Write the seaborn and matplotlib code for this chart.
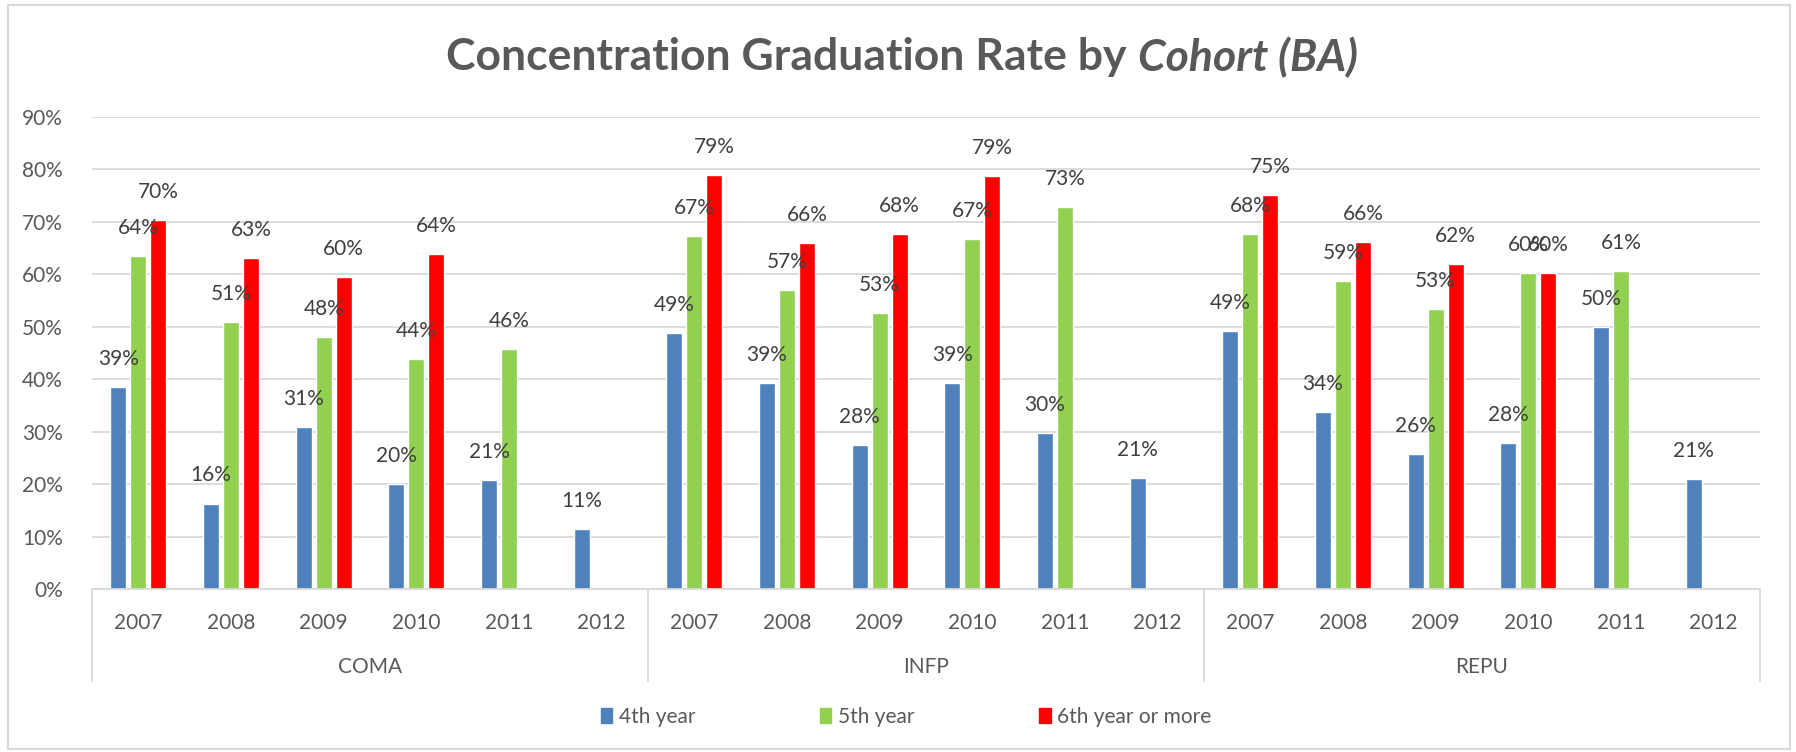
import numpy as np
import pandas as pd
import matplotlib
matplotlib.use("Agg")
import matplotlib.pyplot as plt
import matplotlib.transforms as mtransforms
from matplotlib.lines import Line2D
from matplotlib.patches import Rectangle
from matplotlib.ticker import PercentFormatter
import seaborn as sns

# data
programs = ["COMA", "INFP", "REPU"]
years = ["2007", "2008", "2009", "2010", "2011", "2012"]
series = ["4th year", "5th year", "6th year or more"]

fourth = [0.386, 0.163, 0.308, 0.200, 0.208, 0.114,
          0.488, 0.392, 0.275, 0.393, 0.297, 0.212,
          0.491, 0.337, 0.258, 0.279, 0.500, 0.209]
fifth = [0.635, 0.509, 0.480, 0.439, 0.458, None,
         0.673, 0.570, 0.527, 0.667, 0.728, None,
         0.676, 0.587, 0.533, 0.603, 0.606, None]
sixth = [0.703, 0.631, 0.595, 0.638, None, None,
         0.789, 0.659, 0.676, 0.787, None, None,
         0.752, 0.661, 0.620, 0.603, None, None]

colors = ["#4f81bd", "#92d050", "#ff0000"]
grey = "#595959"
light = "#d9d9d9"

sns.set_theme(style="white")
plt.rcParams["font.family"] = ["Lato", "DejaVu Sans"]

cats = [p + " " + y for p in programs for y in years]
rows = []
for name, vals in zip(series, [fourth, fifth, sixth]):
    for c, v in zip(cats, vals):
        if v is not None:
            rows.append({"cat": c, "series": name, "rate": v})
df = pd.DataFrame(rows)

W, H = 1796, 752
fig = plt.figure(figsize=(W / 100, H / 100), dpi=100)
ax = fig.add_axes([92 / W, 1 - 589 / H, (1760 - 92) / W, (589 - 117) / H])

sns.barplot(data=df, x="cat", y="rate", hue="series", order=cats,
            hue_order=series, palette=colors, width=0.645, gap=0.2,
            saturation=1, errorbar=None, legend=False, ax=ax)

for cont in ax.containers:
    labs = [f"{b.get_height() * 100:.0f}%" for b in cont]
    ax.bar_label(cont, labels=labs, padding=13, fontsize=15, color="#404040")

ax.set_ylim(0, 0.9)
ax.set_xlim(-0.5, len(cats) - 0.5)
ax.set_yticks(np.arange(0, 0.91, 0.1))
ax.yaxis.set_major_formatter(PercentFormatter(1.0, decimals=0))
ax.set_xticks(range(len(cats)))
ax.set_xticklabels(years * len(programs))
ax.tick_params(axis="both", length=0, labelsize=15, labelcolor=grey)
ax.tick_params(axis="y", pad=21)
ax.tick_params(axis="x", pad=17)
ax.set_xlabel("")
ax.set_ylabel("")
ax.grid(axis="y", color=light, lw=1.3)
ax.set_axisbelow(True)
for s in ["top", "right", "left"]:
    ax.spines[s].set_visible(False)
ax.spines["bottom"].set_color(light)
ax.spines["bottom"].set_linewidth(1.3)

# second level of the category axis
tr = mtransforms.blended_transform_factory(ax.transData, fig.transFigure)
for i in range(len(programs) + 1):
    x = i * len(years) - 0.5
    ax.add_line(Line2D([x, x], [1 - 589 / H, 1 - 681 / H], transform=tr,
                       color=light, lw=1.3, clip_on=False))
for i, p in enumerate(programs):
    ax.text(i * len(years) + 2.5, 1 - 667 / H, p, transform=tr,
            ha="center", va="center", fontsize=15, color=grey)

# title, last part in italics
t1 = fig.text(0.5, 1 - 57 / H, "Concentration Graduation Rate by ",
              ha="left", va="center", fontsize=32, fontweight="bold", color=grey)
t2 = fig.text(0.5, 1 - 57 / H, "Cohort (BA)", ha="left", va="center",
              fontsize=32, fontweight="bold", fontstyle="italic", color=grey)
r = fig.canvas.get_renderer()
w1 = t1.get_window_extent(r).width
w2 = t2.get_window_extent(r).width
x0 = (902 - (w1 + w2) / 2) / W
t1.set_x(x0)
t2.set_x(x0 + w1 / W)

handles = [Rectangle((0, 0), 1, 1, color=c) for c in colors]
fig.legend(handles, series, loc="center", bbox_to_anchor=(906 / W, 1 - 717 / H),
           ncol=3, frameon=False, fontsize=15, labelcolor=grey,
           handlelength=0.55, handleheight=0.7, handletextpad=0.3,
           columnspacing=6.0)

fig.add_artist(Rectangle((8 / W, 3 / H), (1790 - 8) / W, (747 - 3) / H,
                         transform=fig.transFigure, fill=False,
                         edgecolor=light, lw=1.5))

fig.savefig("out.png", dpi=100)
